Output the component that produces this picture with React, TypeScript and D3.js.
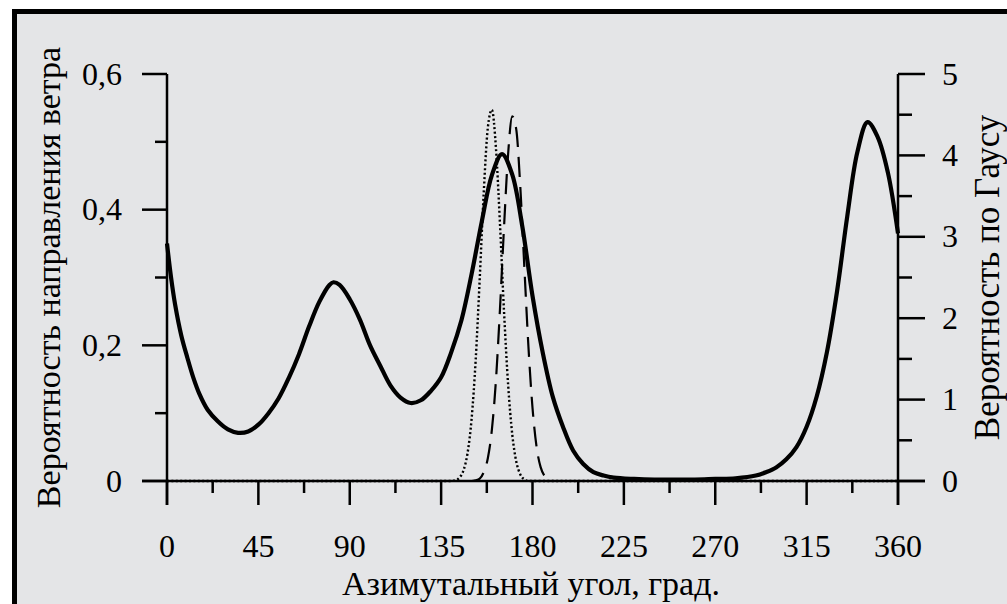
import React from "react";
import * as d3 from "d3";

// азимут, град.
const windAngles = [
  0, 2, 4, 7, 10, 13, 16, 20, 25, 30, 35, 40, 45, 50, 55, 60, 65, 70, 75, 80,
  82, 85, 90, 95, 100, 105, 110, 115, 120, 125, 130, 135, 140, 145, 150, 155,
  160, 165, 170, 175, 180, 185, 190, 195, 200, 205, 210, 215, 220, 230, 240,
  250, 260, 270, 280, 290, 295, 300, 305, 310, 315, 320, 325, 330, 335, 340,
  345, 350, 355, 360,
];
// вероятность направления ветра (левая ось)
const windProb = [
  0.35, 0.3, 0.26, 0.215, 0.182, 0.152, 0.128, 0.105, 0.088, 0.076, 0.071,
  0.073, 0.083, 0.1, 0.122, 0.152, 0.187, 0.228, 0.264, 0.289, 0.293, 0.289,
  0.268, 0.238, 0.2, 0.17, 0.141, 0.123, 0.115, 0.119, 0.133, 0.153, 0.19,
  0.237, 0.305, 0.382, 0.451, 0.482, 0.452, 0.375, 0.273, 0.19, 0.124, 0.08,
  0.045, 0.025, 0.013, 0.008, 0.005, 0.003, 0.002, 0.002, 0.002, 0.003, 0.004,
  0.008, 0.013, 0.02, 0.032, 0.05, 0.08, 0.125, 0.19, 0.28, 0.39, 0.485,
  0.529, 0.507, 0.455, 0.365,
];

// вероятность по Гаусу (правая ось), точечная кривая
const dotAngles = [
  0, 140, 142, 144, 146, 148, 150, 152, 154, 156, 158, 160, 162, 164, 166, 168,
  170, 172, 174, 176, 178, 180, 360,
];
const dotProb = [
  0, 0, 0.01, 0.04, 0.13, 0.34, 0.76, 1.48, 2.48, 3.55, 4.34, 4.56, 4.09,
  3.15, 2.07, 1.18, 0.58, 0.24, 0.08, 0.02, 0, 0, 0,
];

// вероятность по Гаусу (правая ось), штриховая кривая
const dashAngles = [
  0, 150, 152, 154, 156, 158, 160, 162, 164, 166, 168, 170, 172, 174, 176, 178,
  180, 182, 184, 186, 188, 190, 360,
];
const dashProb = [
  0, 0, 0.01, 0.03, 0.11, 0.28, 0.63, 1.24, 2.12, 3.13, 4.02, 4.48, 4.32, 3.61,
  2.62, 1.65, 0.9, 0.42, 0.17, 0.06, 0.02, 0, 0,
];

const xTicks = [0, 45, 90, 135, 180, 225, 270, 315, 360];
const xMinor = [22.5, 67.5, 112.5, 157.5, 202.5, 247.5, 292.5, 337.5];
const yLeftTicks = [0, 0.2, 0.4, 0.6];
const yLeftMinor = [0.1, 0.3, 0.5];
const yRightTicks = [0, 1, 2, 3, 4, 5];
const yRightMinor = [0.5, 1.5, 2.5, 3.5, 4.5];

const W = 1007;
const H = 604;
const font = "Liberation Serif, DejaVu Serif, serif";

export default function App() {
  const x = d3.scaleLinear().domain([0, 360]).range([167, 898]);
  const yL = d3.scaleLinear().domain([0, 0.6]).range([481, 74]);
  const yR = d3.scaleLinear().domain([0, 5]).range([481, 74]);

  const solid = d3
    .line<number>()
    .x((_, i) => x(windAngles[i]))
    .y((d) => yL(d))
    .curve(d3.curveCatmullRom.alpha(0.5))(windProb);
  const dotted = d3
    .line<number>()
    .x((_, i) => x(dotAngles[i]))
    .y((d) => yR(d))
    .curve(d3.curveMonotoneX)(dotProb);
  const dashed = d3
    .line<number>()
    .x((_, i) => x(dashAngles[i]))
    .y((d) => yR(d))
    .curve(d3.curveMonotoneX)(dashProb);

  const x0 = x(0);
  const x1 = x(360);
  const yb = yL(0);

  return (
    <svg
      width={W}
      height={H}
      style={{ position: "absolute", left: 0, top: 0 }}
    >
      <rect x={0} y={0} width={W} height={H} fill="#fff" />
      <rect x={12} y={9} width={W - 12} height={H - 9} fill="#e4e5e7" />
      <line x1={12} y1={11.5} x2={W} y2={11.5} stroke="#000" strokeWidth={5} />
      <line x1={14.5} y1={9} x2={14.5} y2={H} stroke="#000" strokeWidth={5} />

      {/* кривые */}
      <path d={dotted || ""} fill="none" stroke="#000" strokeWidth={2.4} strokeDasharray="2,2.4" />
      <path d={dashed || ""} fill="none" stroke="#000" strokeWidth={2.2} strokeDasharray="20,10" />
      <path d={solid || ""} fill="none" stroke="#000" strokeWidth={4.2} strokeLinejoin="round" />

      {/* оси */}
      <g stroke="#000" strokeWidth={2.5}>
        <line x1={x0 - 25} y1={yb} x2={x1 + 27} y2={yb} />
        <line x1={x0} y1={yL(0.6)} x2={x0} y2={yb + 24} />
        <line x1={x1} y1={yR(5)} x2={x1} y2={yb + 24} />
        {xTicks.map((t) => (
          <line key={"xt" + t} x1={x(t)} x2={x(t)} y1={yb} y2={yb + 24} />
        ))}
        {xMinor.map((t) => (
          <line key={"xm" + t} x1={x(t)} x2={x(t)} y1={yb} y2={yb + 12} />
        ))}
        {yLeftTicks.map((t) => (
          <line key={"yl" + t} x1={x0 - 25} x2={x0} y1={yL(t)} y2={yL(t)} />
        ))}
        {yLeftMinor.map((t) => (
          <line key={"ylm" + t} x1={x0 - 12} x2={x0} y1={yL(t)} y2={yL(t)} />
        ))}
        {yRightTicks.map((t) => (
          <line key={"yr" + t} x1={x1} x2={x1 + 27} y1={yR(t)} y2={yR(t)} />
        ))}
        {yRightMinor.map((t) => (
          <line key={"yrm" + t} x1={x1} x2={x1 + 14} y1={yR(t)} y2={yR(t)} />
        ))}
      </g>

      {/* подписи */}
      <g fill="#000" fontFamily={font}>
        {xTicks.map((t) => (
          <text key={"xl" + t} x={x(t)} y={557} textAnchor="middle" fontSize={32} fontFamily={font}>
            {t}
          </text>
        ))}
        {yLeftTicks.map((t) => (
          <text key={"yll" + t} x={122} y={yL(t)} dy="0.33em" textAnchor="end" fontSize={32} fontFamily={font}>
            {t === 0 ? "0" : t.toFixed(1).replace(".", ",")}
          </text>
        ))}
        {yRightTicks.map((t) => (
          <text key={"yrl" + t} x={942} y={yR(t)} dy="0.33em" textAnchor="start" fontSize={32} fontFamily={font}>
            {t}
          </text>
        ))}
        <text x={531} y={595} textAnchor="middle" fontSize={34} fontFamily={font}>
          Азимутальный угол, град.
        </text>
        <text
          transform={`translate(60, ${(yL(0) + yL(0.6)) / 2}) rotate(-90)`}
          textAnchor="middle"
          fontSize={34}
          fontFamily={font}
        >
          Вероятность направления ветра
        </text>
        <text
          transform={`translate(999, ${(yR(0) + yR(5)) / 2}) rotate(-90)`}
          textAnchor="middle"
          fontSize={35}
          fontFamily={font}
        >
          Вероятность по Гаусу
        </text>
      </g>
    </svg>
  );
}
